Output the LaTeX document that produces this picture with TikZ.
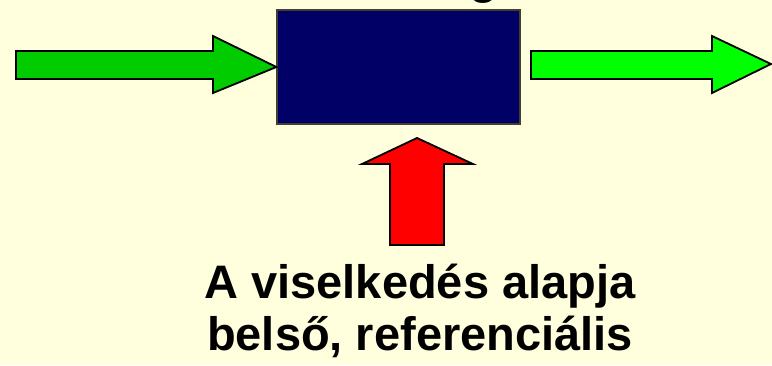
\documentclass[tikz,border=0pt]{standalone}
\usepackage{fontspec}
\setmainfont{Liberation Sans}
\definecolor{bgyellow}{RGB}{255,255,221}
\definecolor{boxnavy}{RGB}{0,0,102}
\definecolor{darkgreen}{RGB}{0,204,0}
\definecolor{lightgreen}{RGB}{0,255,0}
\definecolor{arrowred}{RGB}{255,0,0}
\tikzset{
  blockarrow/.style={draw=black, line width=1.8pt, line join=miter},
  bigtext/.style={font=\bfseries\fontsize{47}{50}\selectfont, text=black, inner sep=0pt}
}
\begin{document}
\begin{tikzpicture}[x=1pt,y=-1pt]
\useasboundingbox (0,0) rectangle (772,365);
\fill[bgyellow] (0,0) rectangle (772,365);
% cut-off text at top
\begin{scope}
\clip (0,0) rectangle (772,365);
\node[bigtext, anchor=base] (toptext) at (484,-7) {g};
\end{scope}
% central box
\node[draw=black!70!olive, line width=1.2pt, fill=boxnavy, minimum width=243pt, minimum height=114pt, inner sep=0pt] (box) at (398.5,67) {};
% left green arrow
\path[blockarrow, fill=darkgreen] (16,51) -- (213,51) -- (213,36) -- (box.west) -- (213,93) -- (213,79) -- (16,79) -- cycle;
% right green arrow
\coordinate (rtip) at (771,64);
\path[blockarrow, fill=lightgreen] (531,51) -- (712,51) -- (712,36) -- (rtip) -- (712,93) -- (712,79) -- (531,79) -- cycle;
% red arrow
\coordinate (redtip) at (417,138);
\path[blockarrow, fill=arrowred] (redtip) -- (473,164) -- (444,164) -- (444,245) -- (390,245) -- (390,164) -- (362,164) -- cycle;
% label
\node[bigtext, align=center, anchor=base] (label) at (420,350) {A viselkedés alapja\\[2pt]belső, referenciális};
\end{tikzpicture}
\end{document}
